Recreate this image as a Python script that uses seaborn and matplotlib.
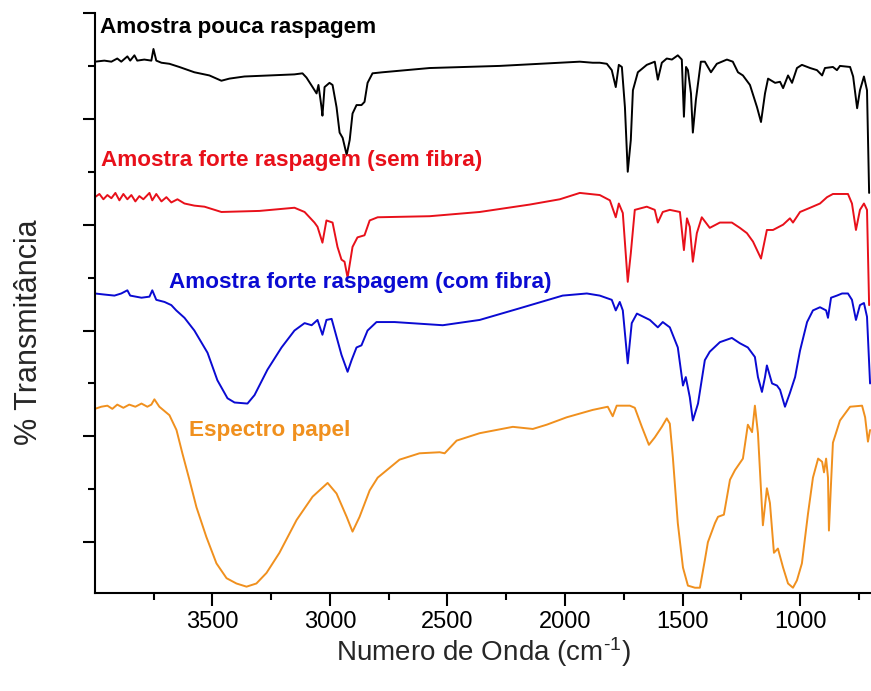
import numpy as np
import pandas as pd
import matplotlib
matplotlib.use("Agg")
import matplotlib.pyplot as plt
from matplotlib.ticker import MultipleLocator, FixedLocator, NullFormatter
import seaborn as sns

# FTIR spectra (wavenumber in cm^-1, transmittance in stacked arbitrary units)
wn_pouca = [4000, 3960, 3930, 3905, 3888, 3862, 3850, 3832, 3820, 3790, 3760, 3751, 3739, 3717,
            3683, 3641, 3577, 3513, 3462, 3428, 3364, 3257, 3151, 3117, 3100, 3074, 3057, 3049,
            3036, 3032, 3023, 3002, 2989, 2972, 2959, 2946, 2929, 2916, 2904, 2887, 2866, 2853,
            2840, 2819, 2776, 2576, 2278, 1937, 1882, 1852, 1822, 1801, 1784, 1771, 1758, 1745,
            1733, 1720, 1711, 1690, 1652, 1618, 1605, 1588, 1567, 1545, 1520, 1503, 1494, 1485,
            1477, 1464, 1456, 1443, 1422, 1405, 1379, 1354, 1311, 1286, 1264, 1243, 1213, 1183,
            1166, 1149, 1136, 1106, 1085, 1072, 1051, 1034, 1013, 992, 957, 928, 906, 894, 860,
            843, 830, 787, 774, 757, 745, 728, 715, 706]
t_pouca = [4.54, 4.55, 4.54, 4.57, 4.54, 4.59, 4.55, 4.60, 4.55, 4.56, 4.55, 4.66, 4.55, 4.53,
           4.52, 4.49, 4.44, 4.41, 4.36, 4.38, 4.40, 4.41, 4.42, 4.43, 4.39, 4.30, 4.24, 4.32,
           4.11, 4.03, 4.30, 4.34, 4.32, 4.11, 3.87, 3.82, 3.66, 3.80, 4.05, 4.13, 4.13, 4.16,
           4.34, 4.43, 4.44, 4.48, 4.50, 4.54, 4.53, 4.53, 4.52, 4.46, 4.30, 4.51, 4.49, 4.11,
           3.50, 3.80, 4.27, 4.44, 4.51, 4.54, 4.37, 4.53, 4.57, 4.56, 4.60, 4.56, 4.02, 4.49,
           4.46, 4.24, 3.87, 4.18, 4.54, 4.54, 4.44, 4.52, 4.56, 4.54, 4.44, 4.41, 4.32, 4.11,
           3.97, 4.24, 4.38, 4.34, 4.35, 4.29, 4.41, 4.34, 4.48, 4.51, 4.48, 4.46, 4.41, 4.48, 4.49,
           4.46, 4.50, 4.49, 4.40, 4.10, 4.27, 4.40, 4.27, 3.30]

wn_sem = [4000, 3981, 3964, 3947, 3930, 3913, 3896, 3879, 3862, 3845, 3828, 3811, 3794, 3768,
          3756, 3739, 3717, 3696, 3675, 3649, 3619, 3577, 3534, 3462, 3300, 3151, 3108, 3066,
          3053, 3032, 3015, 2989, 2968, 2951, 2938, 2925, 2904, 2883, 2853, 2831, 2797, 2576,
          2363, 2150, 2022, 1937, 1852, 1809, 1784, 1771, 1754, 1733, 1720, 1703, 1652, 1618,
          1605, 1584, 1554, 1511, 1494, 1481, 1469, 1456, 1439, 1418, 1384, 1341, 1290, 1256,
          1226, 1200, 1166, 1141, 1115, 1072, 1043, 1030, 1000, 957, 915, 885, 860, 796, 779,
          762, 745, 728, 715, 706]
t_sem = [3.26, 3.29, 3.24, 3.28, 3.25, 3.30, 3.23, 3.29, 3.24, 3.28, 3.22, 3.27, 3.24, 3.30,
         3.23, 3.29, 3.22, 3.26, 3.21, 3.24, 3.20, 3.18, 3.17, 3.12, 3.13, 3.16, 3.12, 3.02,
         2.98, 2.83, 3.04, 3.02, 2.79, 2.67, 2.65, 2.50, 2.79, 2.88, 2.90, 3.04, 3.07, 3.08,
         3.12, 3.19, 3.24, 3.30, 3.28, 3.23, 3.07, 3.20, 3.11, 2.46, 2.73, 3.14, 3.17, 3.14,
         3.02, 3.12, 3.14, 3.12, 2.76, 3.06, 2.98, 2.65, 2.92, 3.07, 2.97, 3.02, 3.02, 2.97,
         2.92, 2.84, 2.68, 2.95, 2.95, 3.00, 3.06, 3.02, 3.12, 3.16, 3.20, 3.26, 3.29, 3.29, 3.20,
         2.95, 3.14, 3.20, 3.14, 2.24]

wn_com = [4000, 3960, 3917, 3888, 3862, 3850, 3802, 3768, 3756, 3739, 3704, 3675, 3654, 3619,
          3577, 3521, 3479, 3436, 3406, 3351, 3321, 3266, 3206, 3151, 3108, 3078, 3053, 3032,
          3015, 2993, 2972, 2951, 2925, 2908, 2887, 2866, 2840, 2802, 2725, 2520, 2363, 2193,
          2010, 1907, 1852, 1801, 1784, 1767, 1754, 1733, 1716, 1694, 1639, 1605, 1584, 1554,
          1520, 1498, 1486, 1469, 1456, 1434, 1405, 1384, 1341, 1290, 1256, 1222, 1192, 1179,
          1162, 1149, 1141, 1119, 1098, 1085, 1064, 1043, 1021, 1000, 970, 945, 915, 889, 881,
          868, 843, 821, 796, 779, 762, 745, 728, 715, 702]
t_com = [2.35, 2.34, 2.33, 2.35, 2.38, 2.33, 2.31, 2.32, 2.38, 2.29, 2.27, 2.24, 2.19, 2.12,
         2.00, 1.79, 1.53, 1.36, 1.32, 1.31, 1.39, 1.63, 1.84, 2.00, 2.07, 2.05, 2.10, 1.96,
         2.10, 2.11, 1.94, 1.77, 1.61, 1.72, 1.84, 1.86, 2.00, 2.08, 2.08, 2.05, 2.10, 2.21,
         2.33, 2.35, 2.33, 2.29, 2.19, 2.27, 2.19, 1.69, 2.07, 2.16, 2.10, 2.03, 2.08, 2.03,
         1.84, 1.48, 1.56, 1.37, 1.15, 1.31, 1.72, 1.80, 1.89, 1.93, 1.88, 1.84, 1.75, 1.56,
         1.42, 1.56, 1.67, 1.50, 1.48, 1.44, 1.28, 1.41, 1.56, 1.81, 2.08, 2.19, 2.22, 2.19, 2.12,
         2.31, 2.33, 2.35, 2.35, 2.29, 2.10, 2.24, 2.26, 2.13, 1.50]

wn_papel = [4000, 3973, 3947, 3926, 3905, 3879, 3854, 3828, 3802, 3777, 3760, 3747, 3726, 3683,
            3653, 3628, 3598, 3568, 3526, 3483, 3440, 3398, 3355, 3313, 3270, 3215, 3142, 3074,
            3010, 2972, 2929, 2904, 2874, 2831, 2797, 2704, 2619, 2533, 2512, 2461, 2363, 2222,
            2137, 2078, 1993, 1882, 1818, 1797, 1780, 1724, 1703, 1673, 1643, 1618, 1588, 1567,
            1554, 1541, 1520, 1498, 1477, 1447, 1426, 1405, 1392, 1362, 1349, 1324, 1298, 1277,
            1243, 1222, 1204, 1192, 1179, 1158, 1141, 1128, 1111, 1094, 1072, 1051, 1030, 1013,
            992, 966, 945, 923, 906, 898, 889, 881, 877, 868, 860, 830, 787, 736, 723, 711, 702]
t_papel = [1.26, 1.28, 1.29, 1.26, 1.30, 1.27, 1.30, 1.28, 1.31, 1.28, 1.30, 1.35, 1.28, 1.20,
           1.06, 0.84, 0.59, 0.33, 0.05, -0.20, -0.34, -0.39, -0.42, -0.39, -0.29, -0.10, 0.21,
           0.43, 0.56, 0.46, 0.24, 0.10, 0.24, 0.49, 0.61, 0.78, 0.84, 0.85, 0.84, 0.96, 1.03,
           1.09, 1.07, 1.11, 1.18, 1.25, 1.28, 1.19, 1.29, 1.29, 1.27, 1.09, 0.92, 0.99, 1.09,
           1.17, 1.12, 0.80, 0.18, -0.24, -0.41, -0.43, -0.43, -0.17, 0.00, 0.18, 0.24, 0.26,
           0.59, 0.68, 0.79, 1.11, 1.04, 1.29, 1.03, 0.16, 0.51, 0.37, -0.10, -0.06, -0.24, -0.39,
           -0.43, -0.36, -0.20, 0.27, 0.61, 0.79, 0.76, 0.66, 0.79, 0.61, 0.11, 0.56, 0.94, 1.15,
           1.28, 1.29, 1.18, 0.95, 1.06]

labels = ["Amostra pouca raspagem",
          "Amostra forte raspagem (sem fibra)",
          "Amostra forte raspagem (com fibra)",
          "Espectro papel"]
colors = ["#000000", "#E8101A", "#0A0AD2", "#F0901E"]
label_pos = [(3979, 4.86), (3973, 3.61), (3683, 2.45), (3598, 1.06)]

frames = []
for name, wn, t in zip(labels, [wn_pouca, wn_sem, wn_com, wn_papel],
                       [t_pouca, t_sem, t_com, t_papel]):
    frames.append(pd.DataFrame({"wn": wn, "t": t, "amostra": name}))
df = pd.concat(frames, ignore_index=True)

sns.set_theme(style="ticks")
plt.rcParams["font.family"] = ["Liberation Sans", "DejaVu Sans"]
plt.rcParams["mathtext.default"] = "regular"

fig = plt.figure(figsize=(8.71, 6.91), dpi=100)
ax = fig.add_axes([0.109, 0.1418, 0.891, 0.8394])

sns.lineplot(data=df, x="wn", y="t", hue="amostra", palette=colors,
             hue_order=labels, sort=False, estimator=None, lw=1.4,
             legend=False, ax=ax)

for name, col, (x, y) in zip(labels, colors, label_pos):
    ax.text(x, y, name, color=col, fontsize=16.2, fontweight="bold",
            ha="left", va="center")

ax.set_xlim(4000, 698)
ax.set_ylim(-0.48, 5.0)

ax.xaxis.set_major_locator(FixedLocator([3500, 3000, 2500, 2000, 1500, 1000]))
ax.xaxis.set_minor_locator(FixedLocator([3750, 3250, 2750, 2250, 1750, 1250, 750]))
ax.yaxis.set_major_locator(MultipleLocator(1.0))
ax.yaxis.set_minor_locator(MultipleLocator(0.5))
ax.yaxis.set_major_formatter(NullFormatter())

ax.tick_params(axis="both", which="major", direction="out", length=9, width=1.5,
               labelsize=17, pad=4, color="black", labelcolor="black")
ax.tick_params(axis="both", which="minor", direction="out", length=5, width=1.5,
               color="black")

for side in ["top", "right"]:
    ax.spines[side].set_visible(False)
for side in ["left", "bottom"]:
    ax.spines[side].set_linewidth(1.5)
    ax.spines[side].set_color("black")

ax.set_xlabel("Numero de Onda (cm$^{\u2010 1}$)", fontsize=20)
ax.set_ylabel("% Transmitância", fontsize=22)
ax.xaxis.set_label_coords(0.5, -0.072)
ax.yaxis.set_label_coords(-0.066, 0.45)

fig.savefig("out.png", dpi=100)
